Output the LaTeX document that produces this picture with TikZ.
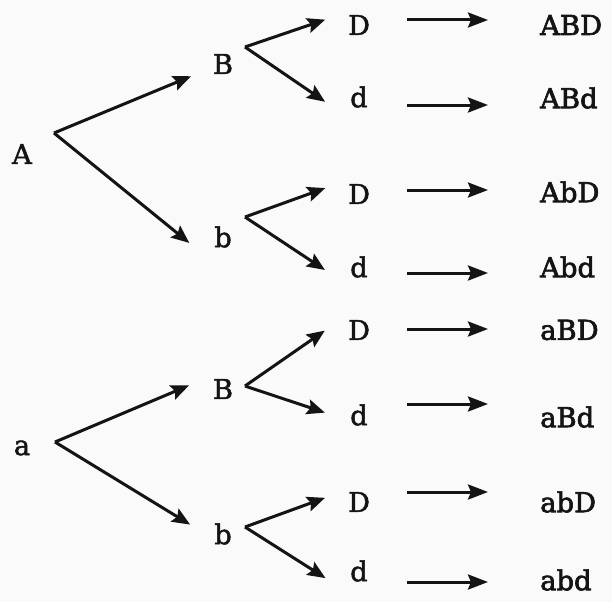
\documentclass[tikz,border=0pt]{standalone}
\usepackage{fontspec}
\setmainfont{DejaVu Serif}
\newfontfamily\allelefont[FakeBold=1.6]{DejaVu Serif}
\newfontfamily\combofont[FakeBold=2.4]{DejaVu Serif}
\usetikzlibrary{arrows.meta}
\definecolor{paper}{RGB}{250,250,250}
\definecolor{ink}{RGB}{20,20,20}
\begin{document}
\begin{tikzpicture}[x=1pt,y=-1pt,
  every node/.style={text=ink,font=\allelefont\fontsize{27.4}{30}\selectfont},
  root/.style={inner sep=0pt},
  gene/.style={circle,inner sep=0pt,minimum size=68pt},
  combo/.style={anchor=west,inner sep=0pt,font=\combofont\fontsize{27.4}{30}\selectfont},
  branch/.style={draw=ink,line width=3pt,-{Stealth[length=18pt,width=15pt,inset=3pt]}},
  result/.style={draw=ink,line width=3pt,-{Stealth[length=20pt,width=15pt,inset=3pt]}}]
\fill[paper] (0,0) rectangle (612,602);
\useasboundingbox (0,0) rectangle (612,602);

% first locus
\node[root] (A) at (22,154) {A};
\node[root] (a) at (22,448) {a};
\coordinate (Afork) at (54,133);
\coordinate (afork) at (55,442);

% second locus
\node[gene] (B1) at (223,64) {B};
\node[gene] (b1) at (223,237) {b};
\node[gene] (B2) at (223,389) {B};
\node[gene] (b2) at (223,534) {b};
\coordinate (B1fork) at (245,47);
\coordinate (b1fork) at (245,217);
\coordinate (B2fork) at (245,386);
\coordinate (b2fork) at (245,527);

% third locus
\node[gene] (D1) at (359,25) {D};
\node[gene] (d1) at (359,97) {d};
\node[gene] (D2) at (359,194) {D};
\node[gene] (d2) at (359,267) {d};
\node[gene] (D3) at (359,330) {D};
\node[gene] (d3) at (359,415) {d};
\node[gene] (D4) at (359,502) {D};
\node[gene] (d4) at (359,571) {d};

% gamete combinations
\node[combo] (ABD) at (540,25) {ABD};
\node[combo] (ABd) at (540,98) {ABd};
\node[combo] (AbD) at (540,192) {AbD};
\node[combo] (Abd) at (540,267) {Abd};
\node[combo] (aBD) at (540,330) {aBD};
\node[combo] (aBd) at (540,417) {aBd};
\node[combo] (abD) at (540,502) {abD};
\node[combo] (abd) at (540,580) {abd};

% branches from the first locus
\draw[branch] (Afork) -- (B1.201.5);
\draw[branch] (Afork) -- (b1.190.3);
\draw[branch] (afork) -- (B2.174.8);
\draw[branch] (afork) -- (b2.164.7);

% branches from the second locus
\draw[branch] (B1fork) -- (D1.171.6);
\draw[branch] (B1fork) -- (d1.188.6);
\draw[branch] (b1fork) -- (D2.170.5);
\draw[branch] (b1fork) -- (d2.185.2);
\draw[branch] (B2fork) -- (D3.181.7);
\draw[branch] (B2fork) -- (d3.176.5);
\draw[branch] (b2fork) -- (D4.173.3);
\draw[branch] (b2fork) -- (d4.192);

% resulting combinations
\draw[result] ([shift={(14,-5)}]D1.east) -- ([shift={(-52,-5)}]ABD.west);
\draw[result] ([shift={(14,8)}]d1.east) -- ([shift={(-52,7)}]ABd.west);
\draw[result] ([shift={(14,-4)}]D2.east) -- ([shift={(-52,-2)}]AbD.west);
\draw[result] ([shift={(14,6)}]d2.east) -- ([shift={(-52,6)}]Abd.west);
\draw[result] ([shift={(14,-1)}]D3.east) -- ([shift={(-52,-1)}]aBD.west);
\draw[result] ([shift={(14,-11)}]d3.east) -- ([shift={(-52,-13)}]aBd.west);
\draw[result] ([shift={(14,-10)}]D4.east) -- ([shift={(-52,-10)}]abD.west);
\draw[result] ([shift={(14,11)}]d4.east) -- ([shift={(-52,2)}]abd.west);
\end{tikzpicture}
\end{document}
